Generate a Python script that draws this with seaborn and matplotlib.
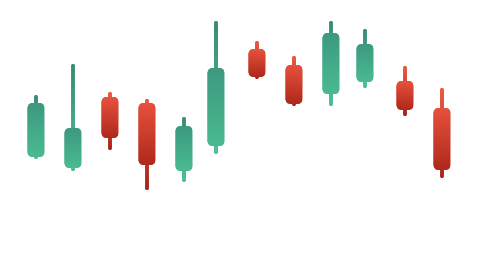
import numpy as np
import matplotlib
matplotlib.use("Agg")
import matplotlib.pyplot as plt
from matplotlib.patches import FancyBboxPatch
from matplotlib.colors import LinearSegmentedColormap
import seaborn as sns

sns.set_style("white")

# Candle data (arbitrary price units)
positions = [36, 73, 110, 147, 184, 216, 257, 294, 331, 365, 405, 442]
opens  = [112, 101, 172, 166,  98, 123, 220, 204, 175, 187, 188, 161]
closes = [166, 141, 131, 104, 143, 201, 192, 165, 236, 225, 159,  99]
highs  = [174, 205, 177, 170, 152, 248, 228, 213, 248, 240, 203, 181]
lows   = [110,  98, 119,  79,  87, 115, 190, 163, 163, 181, 153,  91]

up_body = LinearSegmentedColormap.from_list("upb", ["#3d9980", "#4abb90"])
up_wick = LinearSegmentedColormap.from_list("upw", ["#388a75", "#4cc294"])
down_body = LinearSegmentedColormap.from_list("dnb", ["#e8513c", "#ae291c"])
down_wick = LinearSegmentedColormap.from_list("dnw", ["#ee5a44", "#a5231a"])

body_w = 17
wick_w = 3.6
radius = 5.5

fig = plt.figure(figsize=(4.79, 2.69), dpi=100)
ax = fig.add_axes([0, 0, 1, 1])
ax.set_xlim(0, 479)
ax.set_ylim(0, 269)
ax.axis("off")

grad = np.linspace(0, 1, 256).reshape(-1, 1)

for x, o, c, h, l in zip(positions, opens, closes, highs, lows):
    up = c >= o
    bc = up_body if up else down_body
    wc = up_wick if up else down_wick
    lo_b, hi_b = min(o, c), max(o, c)
    wick = FancyBboxPatch((x - wick_w / 2, l), wick_w, h - l,
                          boxstyle=f"round,pad=0,rounding_size={wick_w/2}",
                          linewidth=0, facecolor=wc(0.5), zorder=2)
    ax.add_patch(wick)
    im = ax.imshow(grad, cmap=wc, aspect="auto", origin="upper",
                   extent=[x - wick_w, x + wick_w, l, h],
                   zorder=3, interpolation="bilinear")
    im.set_clip_path(wick)

    body = FancyBboxPatch((x - body_w / 2, lo_b), body_w, hi_b - lo_b,
                          boxstyle=f"round,pad=0,rounding_size={radius}",
                          linewidth=0, facecolor=bc(0.5), zorder=4)
    ax.add_patch(body)
    im = ax.imshow(grad, cmap=bc, aspect="auto", origin="upper",
                   extent=[x - body_w / 2, x + body_w / 2, lo_b, hi_b],
                   zorder=5, interpolation="bilinear")
    im.set_clip_path(body)

ax.set_xlim(0, 479)
ax.set_ylim(0, 269)
ax.set_aspect("auto")
fig.savefig("out.png", dpi=100)
